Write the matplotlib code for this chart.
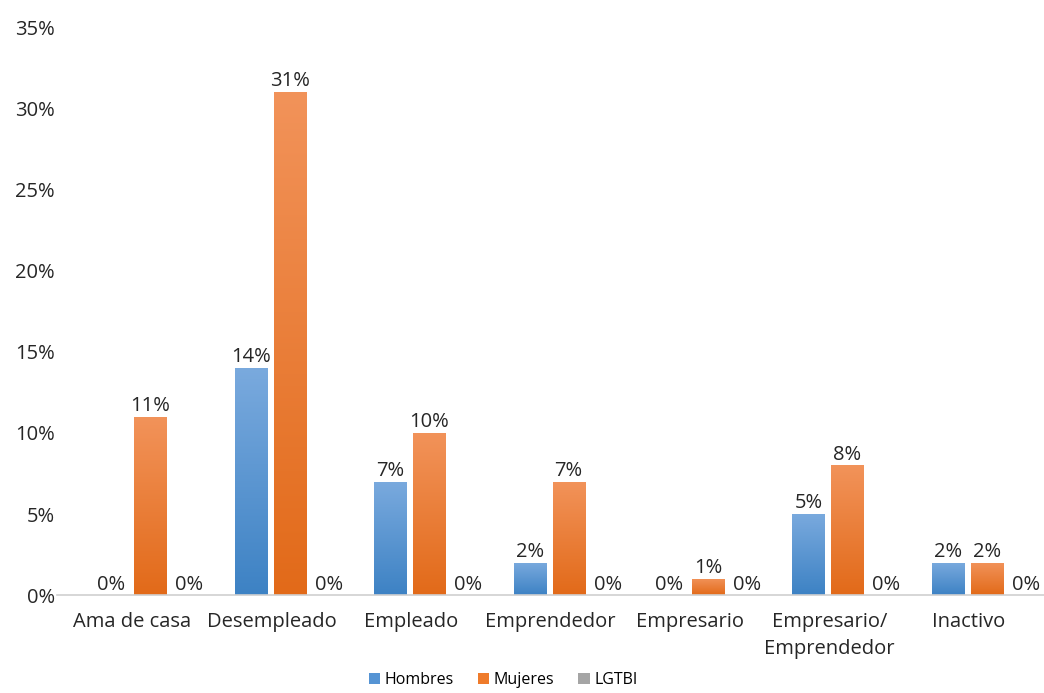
"""Situación laboral por grupo: barras agrupadas con degradado."""

import matplotlib

matplotlib.use("Agg")

import matplotlib.pyplot as plt
import numpy as np
from matplotlib.colors import LinearSegmentedColormap
from matplotlib.patches import Patch

categories = ["Ama de casa", "Desempleado", "Empleado", "Emprendedor",
              "Empresario", "Empresario/\nEmprendedor", "Inactivo"]
hombres = [0, 14, 7, 2, 0, 5, 2]
mujeres = [11, 31, 10, 7, 1, 8, 2]
lgtbi = [0, 0, 0, 0, 0, 0, 0]
series_names = ["Hombres", "Mujeres", "LGTBI"]

# (top, bottom) colours for the vertical gradient of each series
GRADIENTS = [("#7aaade", "#3d82c4"), ("#f2935a", "#e26a19"), ("#b8b8b8", "#959595")]
LEGEND_COLORS = ["#5594d4", "#ef7b2b", "#a5a5a5"]
TEXT_COLOR = "#262626"

plt.rcParams["font.family"] = ["Open Sans", "DejaVu Sans"]

fig = plt.figure(figsize=(10.44, 6.93), dpi=100)
ax = fig.add_axes([0.055, 0.141, 0.945, 0.82])

x = np.arange(len(categories))
width = 0.23
offsets = [-(width + 0.05), 0.0, width + 0.05]
grad = np.linspace(1, 0, 256).reshape(-1, 1)

for values, off, (top, bottom) in zip([hombres, mujeres, lgtbi], offsets, GRADIENTS):
    cmap = LinearSegmentedColormap.from_list("g", [bottom, top])
    bars = ax.bar(x + off, values, width, color="none", edgecolor="none")
    for bar, v in zip(bars, values):
        if v > 0:
            x0, w, h = bar.get_x(), bar.get_width(), bar.get_height()
            img = ax.imshow(grad, cmap=cmap, aspect="auto",
                            extent=(x0, x0 + w, 0, h), zorder=2)
            img.set_clip_path(bar)
        ax.annotate(f"{v}%", xy=(bar.get_x() + bar.get_width() / 2, v),
                    xytext=(0, 0.5), textcoords="offset points",
                    ha="center", va="bottom", fontsize=14.5, color=TEXT_COLOR)

ax.set_xlim(-0.667, 6.41)
ax.set_ylim(0, 35)
ax.set_yticks(range(0, 36, 5))
ax.set_yticklabels([f"{t}%" for t in range(0, 36, 5)], fontsize=14.5, color=TEXT_COLOR)
# category labels sit a little left of their bar groups
ax.set_xticks(x - 0.13)
ax.set_xticklabels(categories, fontsize=14.5, color=TEXT_COLOR, va="top",
                   linespacing=1.5)
ax.tick_params(axis="both", length=0)
ax.tick_params(axis="x", pad=12)
ax.tick_params(axis="y", pad=2)

for side in ["top", "right", "left"]:
    ax.spines[side].set_visible(False)
ax.spines["bottom"].set_color("#d0d0d0")
ax.spines["bottom"].set_linewidth(1.2)

handles = [Patch(facecolor=c, label=n) for c, n in zip(LEGEND_COLORS, series_names)]
fig.legend(handles=handles, loc="lower center", bbox_to_anchor=(0.482, -0.014),
           ncol=3, frameon=False, fontsize=11.5, handlelength=0.7, handleheight=0.7,
           handletextpad=0.3, columnspacing=1.5)

fig.savefig("out.png", dpi=100)
